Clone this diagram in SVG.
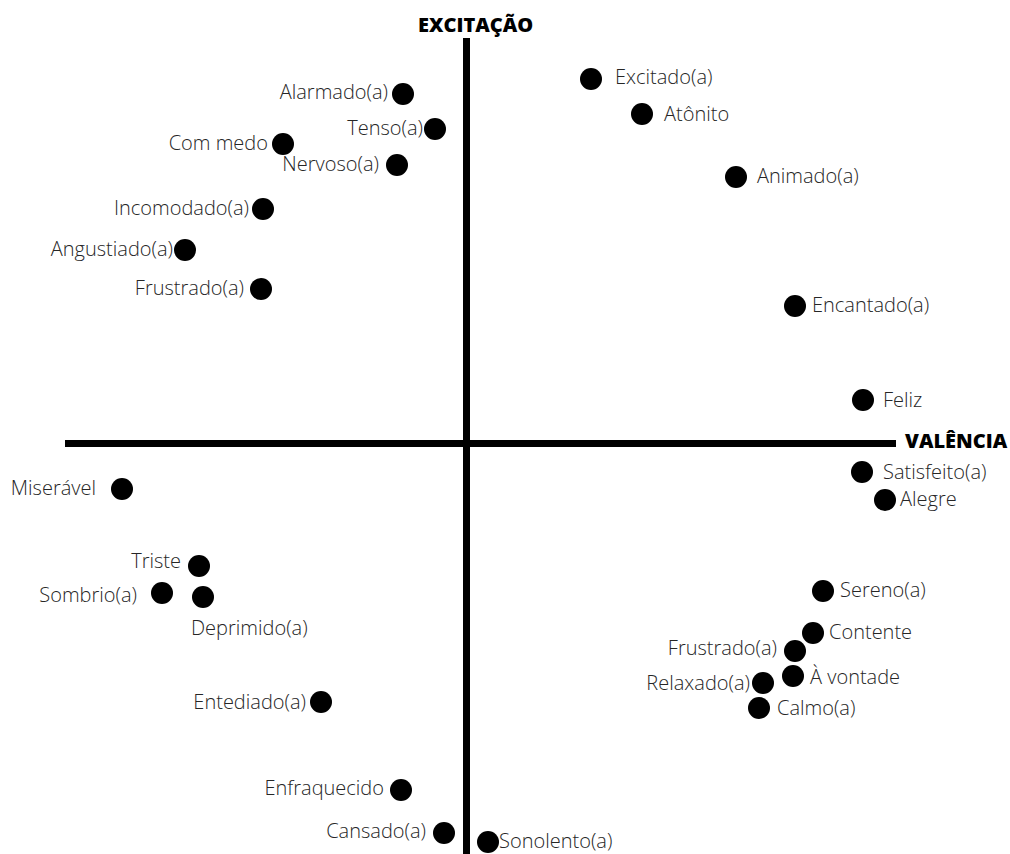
<svg xmlns="http://www.w3.org/2000/svg" width="1010" height="854" viewBox="0 0 1010 854">
<style>
.dot{fill:#000}
.lbl{font-family:"Open Sans","Liberation Sans",sans-serif;font-size:20px;font-weight:300;fill:#262626}
.l{text-anchor:end}
.ax{font-family:"Open Sans","Liberation Sans",sans-serif;font-weight:800;fill:#000;font-size:20px}
.axis{stroke:#000;stroke-width:7;fill:none}
</style>
<rect width="1010" height="854" fill="#fff"/>
<g id="axes">
<line class="axis" x1="65" y1="443.5" x2="896" y2="443.5"/>
<line class="axis" x1="466.5" y1="38" x2="466.5" y2="854"/>
<text class="ax" x="418" y="32">EXCITAÇÃO</text>
<text class="ax" x="905" y="448">VALÊNCIA</text>
</g>
<g id="alarmado"><circle class="dot" cx="403" cy="94" r="11"/><text class="lbl l" x="388" y="99">Alarmado(a)</text></g>
<g id="tenso"><circle class="dot" cx="435" cy="129" r="11"/><text class="lbl l" x="423" y="135">Tenso(a)</text></g>
<g id="com-medo"><circle class="dot" cx="283" cy="144" r="11"/><text class="lbl l" x="268" y="150">Com medo</text></g>
<g id="nervoso"><circle class="dot" cx="397" cy="165" r="11"/><text class="lbl l" x="379" y="171">Nervoso(a)</text></g>
<g id="incomodado"><circle class="dot" cx="263" cy="209" r="11"/><text class="lbl l" x="249" y="215">Incomodado(a)</text></g>
<g id="angustiado"><circle class="dot" cx="185" cy="250" r="11"/><text class="lbl l" x="173" y="256">Angustiado(a)</text></g>
<g id="frustrado-1"><circle class="dot" cx="261" cy="289" r="11"/><text class="lbl l" x="244" y="295">Frustrado(a)</text></g>
<g id="excitado"><circle class="dot" cx="591" cy="79" r="11"/><text class="lbl" x="615" y="84">Excitado(a)</text></g>
<g id="atonito"><circle class="dot" cx="642" cy="114" r="11"/><text class="lbl" x="664" y="121">Atônito</text></g>
<g id="animado"><circle class="dot" cx="736" cy="177" r="11"/><text class="lbl" x="757" y="183">Animado(a)</text></g>
<g id="encantado"><circle class="dot" cx="795" cy="306" r="11"/><text class="lbl" x="812" y="312">Encantado(a)</text></g>
<g id="feliz"><circle class="dot" cx="863" cy="400" r="11"/><text class="lbl" x="883" y="407">Feliz</text></g>
<g id="satisfeito"><circle class="dot" cx="862" cy="472" r="11"/><text class="lbl" x="883" y="479">Satisfeito(a)</text></g>
<g id="alegre"><circle class="dot" cx="885" cy="500" r="11"/><text class="lbl" x="900" y="506">Alegre</text></g>
<g id="miseravel"><circle class="dot" cx="122" cy="489" r="11"/><text class="lbl l" x="96" y="495">Miserável</text></g>
<g id="triste"><circle class="dot" cx="199" cy="566" r="11"/><text class="lbl l" x="181" y="568">Triste</text></g>
<g id="sombrio"><circle class="dot" cx="162" cy="593" r="11"/><text class="lbl l" x="137" y="602">Sombrio(a)</text></g>
<g id="deprimido"><circle class="dot" cx="203" cy="597" r="11"/><text class="lbl" x="191" y="635">Deprimido(a)</text></g>
<g id="entediado"><circle class="dot" cx="321" cy="702" r="11"/><text class="lbl l" x="306" y="709">Entediado(a)</text></g>
<g id="enfraquecido"><circle class="dot" cx="401" cy="790" r="11"/><text class="lbl l" x="384" y="795">Enfraquecido</text></g>
<g id="cansado"><circle class="dot" cx="444" cy="833" r="11"/><text class="lbl l" x="426" y="838">Cansado(a)</text></g>
<g id="sonolento"><circle class="dot" cx="488" cy="842" r="11"/><text class="lbl" x="499" y="848">Sonolento(a)</text></g>
<g id="sereno"><circle class="dot" cx="823" cy="591" r="11"/><text class="lbl" x="840" y="597">Sereno(a)</text></g>
<g id="contente"><circle class="dot" cx="813" cy="633" r="11"/><text class="lbl" x="829" y="639">Contente</text></g>
<g id="frustrado-2"><circle class="dot" cx="795" cy="651" r="11"/><text class="lbl l" x="777" y="655">Frustrado(a)</text></g>
<g id="a-vontade"><circle class="dot" cx="793" cy="676" r="11"/><text class="lbl" x="810" y="684">À vontade</text></g>
<g id="relaxado"><circle class="dot" cx="763" cy="683" r="11"/><text class="lbl l" x="750" y="690">Relaxado(a)</text></g>
<g id="calmo"><circle class="dot" cx="759" cy="708" r="11"/><text class="lbl" x="777" y="715">Calmo(a)</text></g>
</svg>
